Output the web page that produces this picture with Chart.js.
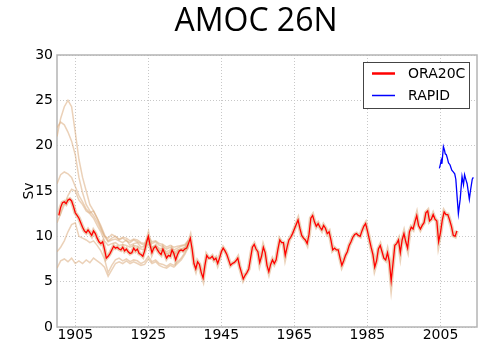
<!DOCTYPE html>
<html>
<head>
<meta charset="utf-8">
<script src="https://cdn.jsdelivr.net/npm/chart.js@4"></script>
<style>
  html, body { margin: 0; padding: 0; background: #fff; }
  canvas { display: block; }
</style>
</head>
<body>
<canvas id="amocChart" width="481" height="344"></canvas>
<script>
// tick positions
const xTickYears = [1905, 1925, 1945, 1965, 1985, 2005];

// ORA20C reanalysis, half-yearly values starting 1900.5
const oraStart = 1900.5;
const oraStep = 0.5;
const oraSv = [
  12.3, 13.2, 13.7, 13.8, 13.6, 14.0, 14.1, 13.9, 13.3, 12.6, 12.3, 12.0, 11.5, 11.0, 10.6, 10.4,
  10.7, 10.4, 10.1, 10.6, 10.3, 9.8, 9.4, 9.2, 9.4, 8.6, 7.6, 7.8, 8.1, 8.5, 8.9, 8.7,
  8.8, 8.6, 8.5, 8.8, 8.4, 8.6, 8.3, 8.1, 8.2, 8.7, 8.4, 8.6, 8.1, 8.0, 7.8, 8.4,
  9.3, 10.0, 9.0, 8.2, 8.7, 8.9, 8.5, 8.2, 8.0, 8.6, 8.1, 7.6, 7.9, 7.8, 8.5, 8.1,
  7.4, 8.0, 8.4, 8.5, 8.4, 8.6, 8.7, 9.2, 9.8, 8.6, 7.0, 6.4, 7.2, 6.9, 6.0, 5.4,
  6.8, 7.9, 7.6, 7.6, 7.8, 7.4, 7.6, 7.0, 7.6, 8.3, 8.7, 8.4, 8.0, 7.4, 6.8, 7.0,
  7.1, 7.3, 7.6, 6.7, 6.0, 5.3, 5.7, 6.0, 6.4, 7.6, 8.8, 9.1, 8.6, 8.3, 7.1, 7.8,
  8.8, 8.2, 6.8, 6.1, 6.9, 7.4, 7.0, 7.4, 8.6, 9.6, 9.3, 9.3, 7.9, 8.8, 9.6, 9.9,
  10.3, 10.8, 11.3, 11.8, 10.9, 10.1, 9.8, 9.6, 9.2, 10.2, 12.0, 12.3, 11.6, 11.1, 11.4, 11.0,
  10.7, 11.2, 10.9, 10.3, 10.5, 9.6, 8.5, 8.7, 8.5, 8.5, 7.6, 6.8, 7.3, 7.9, 8.3, 9.0,
  9.4, 9.9, 10.2, 10.3, 10.1, 10.0, 10.6, 11.1, 11.4, 10.6, 9.7, 8.8, 8.0, 6.6, 7.3, 8.6,
  9.0, 8.3, 7.6, 7.4, 8.2, 7.2, 5.1, 7.0, 9.0, 9.2, 9.6, 8.2, 9.6, 10.3, 9.4, 8.7,
  10.5, 11.0, 10.8, 11.6, 12.3, 11.2, 10.8, 11.2, 11.5, 12.6, 12.8, 11.7, 11.9, 12.4, 11.9, 11.7,
  9.4, 10.4, 11.8, 12.7, 12.4, 12.4, 11.8, 11.1, 10.1, 10.0, 10.6
];

// ensemble members, yearly 1900-1936 (they spread widely early on)
const ensYears = [
  1900, 1901, 1902, 1903, 1904, 1905, 1906, 1907, 1908, 1909, 1910, 1911, 1912,
  1913, 1914, 1915, 1916, 1917, 1918, 1919, 1920, 1921, 1922, 1923, 1924,
  1925, 1926, 1927, 1928, 1929, 1930, 1931, 1932, 1933, 1934, 1935, 1936
];
const ens1 = [21.0, 23.0, 24.3, 25.0, 24.3, 21.5, 18.5, 16.5, 15.0, 13.5, 12.8, 12.0, 11.2,
  10.2, 9.5, 9.8, 10.0, 9.6, 9.8, 9.5, 9.3, 9.6, 9.4, 9.2, 9.0,
  9.8, 9.2, 9.4, 9.0, 8.9, 8.6, 8.8, 8.5, 8.7, 8.9, 9.0, 9.5];
const ens2 = [22.0, 22.6, 22.3, 21.5, 20.5, 19.0, 16.5, 14.8, 13.5, 12.8, 12.3, 11.6, 10.8,
  10.0, 9.4, 9.6, 9.7, 9.5, 9.3, 9.6, 9.0, 9.2, 9.3, 8.8, 8.9,
  9.6, 8.8, 9.0, 8.7, 8.6, 8.3, 8.5, 8.2, 8.5, 8.6, 8.8, 9.4];
const ens3 = [15.8, 16.8, 17.1, 16.9, 16.5, 15.5, 14.5, 13.8, 13.0, 12.6, 12.8, 12.0, 11.0,
  10.0, 9.8, 10.2, 10.0, 9.7, 9.9, 9.8, 9.5, 9.7, 9.6, 9.3, 9.2,
  10.0, 9.4, 9.5, 9.2, 9.1, 8.8, 9.0, 8.8, 8.9, 9.0, 9.1, 9.6];
const ens4 = [11.5, 12.5, 13.5, 14.5, 15.2, 15.0, 14.0, 13.5, 12.8, 12.5, 12.0, 11.2, 10.5,
  9.5, 9.0, 9.2, 9.3, 9.0, 9.1, 9.0, 8.8, 9.0, 8.9, 8.6, 8.5,
  9.3, 8.6, 8.8, 8.5, 8.4, 8.1, 8.3, 8.0, 8.3, 8.5, 8.6, 9.2];
const ens5 = [8.3, 8.8, 9.5, 10.5, 11.3, 11.5, 10.0, 9.8, 9.6, 9.3, 9.5, 9.0, 8.4,
  7.5, 6.0, 6.8, 7.4, 7.6, 7.3, 7.5, 7.2, 7.4, 7.3, 7.0, 7.2,
  7.8, 7.2, 7.4, 7.0, 6.9, 6.7, 7.0, 6.8, 7.2, 7.6, 8.2, 9.0];
const ens6 = [6.5, 7.3, 7.5, 7.2, 7.6, 7.0, 7.3, 7.0, 7.4, 7.1, 7.6, 7.3, 7.0,
  6.6, 5.6, 6.3, 7.0, 7.2, 7.0, 7.3, 7.0, 7.2, 7.0, 6.8, 6.9,
  7.5, 7.0, 7.2, 6.8, 6.6, 6.5, 6.8, 6.6, 7.0, 7.4, 8.0, 8.8];

// RAPID array observations
const rapidYears = [2004.7, 2005.0, 2005.2, 2005.4, 2005.8, 2006.1, 2006.3, 2006.6, 2006.9, 2007.2,
  2007.6, 2008.1, 2008.5, 2008.9, 2009.2, 2009.6, 2009.9, 2010.4, 2010.9, 2011.3,
  2011.6, 2012.0, 2012.3, 2012.9, 2013.2, 2013.7, 2014.0];
const rapidSv = [17.5, 18.0, 18.4, 18.0, 19.9, 19.5, 19.1, 19.0, 18.6, 18.1,
  17.9, 17.3, 17.1, 16.9, 16.3, 14.1, 12.5, 14.1, 16.6, 15.7,
  16.8, 16.2, 15.8, 14.1, 15.0, 16.3, 16.5];

const tan = 'rgba(218, 172, 125, 0.55)';

function pairs(xs, ys) {
  return ys.map((v, i) => ({ x: xs[i], y: v }));
}
const oraPoints = oraSv.map((v, i) => ({ x: oraStart + i * oraStep, y: v }));

function ensDataset(vals) {
  return {
    label: '',
    data: pairs(ensYears, vals),
    borderColor: tan,
    borderWidth: 1.5,
    pointRadius: 0,
    order: 3
  };
}

// legend box inside the plot, top right
const boxLegend = {
  id: 'boxLegend',
  afterDraw(chart) {
    const ctx = chart.ctx;
    const entries = chart.data.datasets.filter(d => d.legendWidth);
    ctx.save();
    ctx.fillStyle = '#fff';
    ctx.fillRect(363.5, 62.5, 106, 46);
    ctx.strokeStyle = '#444';
    ctx.lineWidth = 1;
    ctx.strokeRect(363.5, 62.5, 106, 46);
    ctx.font = '14px "DejaVu Sans"';
    ctx.textBaseline = 'middle';
    entries.forEach((d, i) => {
      const y = 73.5 + i * 22;
      ctx.strokeStyle = d.borderColor;
      ctx.lineWidth = d.legendWidth;
      ctx.beginPath();
      ctx.moveTo(372, y);
      ctx.lineTo(395, y);
      ctx.stroke();
      ctx.fillStyle = '#000';
      ctx.fillText(d.label, 408, y + 1);
    });
    ctx.restore();
  }
};

// light grey frame round the plot area
const frame = {
  id: 'frame',
  beforeDatasetsDraw(chart) {
    const a = chart.chartArea;
    const ctx = chart.ctx;
    ctx.save();
    ctx.strokeStyle = '#b4b4b4';
    ctx.lineWidth = 1.5;
    ctx.strokeRect(a.left, a.top, a.right - a.left, a.bottom - a.top);
    ctx.restore();
  }
};

const ctx = document.getElementById('amocChart').getContext('2d');
const amocChart = new Chart(ctx, {
  type: 'line',
  data: {
    datasets: [
      ensDataset(ens1), ensDataset(ens2), ensDataset(ens3),
      ensDataset(ens4), ensDataset(ens5), ensDataset(ens6),
      {
        label: '',
        data: oraPoints,
        borderColor: tan,
        borderWidth: 4,
        pointRadius: 0,
        order: 2
      },
      {
        label: 'ORA20C',
        legendWidth: 2.5,
        data: oraPoints,
        borderColor: '#ff0000',
        borderWidth: 1.3,
        pointRadius: 0,
        order: 1
      },
      {
        label: 'RAPID',
        legendWidth: 1.5,
        data: pairs(rapidYears, rapidSv),
        borderColor: '#0000ff',
        borderWidth: 1.3,
        pointRadius: 0,
        order: 0
      }
    ]
  },
  options: {
    responsive: false,
    animation: false,
    devicePixelRatio: 1,
    // left padding pushes the title centre over to the right, like the original slide
    layout: { padding: { left: 35, right: 4, top: 0, bottom: 0 } },
    plugins: {
      legend: { display: false },
      tooltip: { enabled: false },
      title: {
        display: true,
        text: 'AMOC 26N',
        color: '#000',
        font: { family: '"Open Sans"', size: 32, weight: 'normal' },
        padding: { top: 3, bottom: 13.6 }
      }
    },
    scales: {
      x: {
        type: 'linear',
        min: 1900,
        max: 2015,
        afterBuildTicks: (scale) => {
          scale.ticks = xTickYears.map(v => ({ value: v }));
        },
        afterFit: (scale) => { scale.height = 17; },
        ticks: {
          color: '#000',
          font: { family: '"DejaVu Sans"', size: 14 },
          padding: 0,
          maxRotation: 0,
          autoSkip: false,
          callback: (v) => String(v)
        },
        grid: { color: '#c8c8c8', lineWidth: 1, drawTicks: false },
        border: { display: false, dash: [1, 2] }
      },
      y: {
        min: 0,
        max: 30,
        afterFit: (scale) => { scale.width = 22; },
        ticks: {
          stepSize: 5,
          color: '#000',
          font: { family: '"DejaVu Sans"', size: 14 },
          padding: 4
        },
        title: {
          display: true,
          text: 'Sv',
          color: '#000',
          font: { family: '"DejaVu Sans"', size: 14 },
          padding: { top: -14.5, bottom: 0 }
        },
        grid: { color: '#c8c8c8', lineWidth: 1, drawTicks: false },
        border: { display: false, dash: [1, 2] }
      }
    }
  },
  plugins: [frame, boxLegend]
});
</script>
</body>
</html>
